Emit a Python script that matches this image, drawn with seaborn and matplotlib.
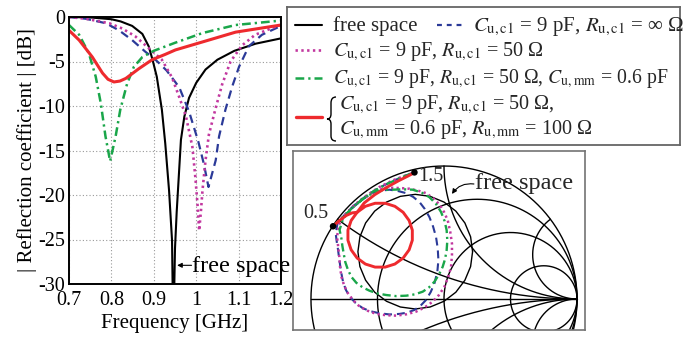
import numpy as np
import pandas as pd
import matplotlib
matplotlib.use("Agg")
import matplotlib.pyplot as plt
from matplotlib.path import Path
from matplotlib.patches import PathPatch
import seaborn as sns

# ---------------- data: |reflection coefficient| [dB] vs frequency [GHz] ----------------
f_free = [0.70, 0.75, 0.80, 0.822, 0.849, 0.873, 0.888, 0.897, 0.907, 0.919, 0.927, 0.936,
          0.943, 0.946, 0.950, 0.954, 0.964, 0.972, 0.983, 1.000, 1.022, 1.050, 1.090, 1.140, 1.200]
db_free = [0.0, -0.05, -0.25, -0.5, -1.0, -1.9, -3.3, -4.8, -6.7, -10.4, -14.2, -19.5,
           -25.1, -36.0, -26.0, -21.9, -13.8, -11.2, -9.1, -7.4, -5.9, -4.8, -3.8, -3.0, -2.4]

f_inf = [0.70, 0.74, 0.787, 0.818, 0.849, 0.880, 0.904, 0.930, 0.960, 0.983, 1.005, 1.018,
         1.029, 1.046, 1.054, 1.069, 1.085, 1.101, 1.124, 1.155, 1.200]
db_inf = [0.0, -0.2, -0.7, -1.5, -2.6, -3.9, -4.8, -6.0, -7.9, -10.6, -14.0, -16.5,
          -19.1, -16.1, -13.4, -10.4, -7.8, -5.6, -3.3, -2.0, -1.0]

f_r50 = [0.70, 0.74, 0.795, 0.826, 0.857, 0.888, 0.919, 0.943, 0.960, 0.976, 0.991, 0.998,
         1.003, 1.007, 1.011, 1.015, 1.022, 1.030, 1.045, 1.061, 1.081, 1.108, 1.139, 1.186, 1.200]
db_r50 = [0.0, -0.2, -0.7, -1.3, -2.2, -3.5, -4.8, -6.8, -9.0, -11.2, -14.6, -18.0,
          -21.0, -24.0, -21.9, -19.4, -16.1, -13.2, -10.4, -7.6, -5.0, -3.2, -2.0, -1.1, -0.9]

f_cmm = [0.70, 0.724, 0.747, 0.763, 0.775, 0.786, 0.797, 0.810, 0.821, 0.837, 0.853, 0.873,
         0.900, 0.950, 1.015, 1.093, 1.200]
db_cmm = [-0.9, -2.0, -4.1, -6.7, -9.7, -13.4, -16.2, -13.4, -10.4, -7.5, -5.6, -4.5,
          -3.8, -2.9, -1.8, -0.9, -0.4]

f_rmm = [0.70, 0.724, 0.755, 0.779, 0.792, 0.806, 0.820, 0.834, 0.865, 0.896, 0.927, 0.951,
         1.015, 1.093, 1.200]
db_rmm = [-1.5, -2.6, -4.5, -6.3, -7.0, -7.3, -7.2, -6.9, -5.8, -4.8, -4.2, -3.7,
          -2.8, -1.7, -0.9]

x_ticks = [0.7, 0.8, 0.9, 1.0, 1.1, 1.2]
x_ticklabels = ["0.7", "0.8", "0.9", "1", "1.1", "1.2"]
y_ticks = [0, -5, -10, -15, -20, -25, -30]
y_ticklabels = ["0", "-5", "-10", "-15", "-20", "-25", "-30"]

# ---------------- data: Smith chart traces (reflection coefficient, re / im) ----------------
sm_free_re = [0.215, 0.200, 0.157, 0.089, 0.000, -0.104, -0.216, -0.328, -0.432, -0.521, -0.589,
              -0.632, -0.647, -0.632, -0.589, -0.521, -0.432, -0.328, -0.216, -0.104, 0.000,
              0.089, 0.157, 0.200, 0.215]
sm_free_im = [0.356, 0.468, 0.572, 0.661, 0.729, 0.772, 0.787, 0.772, 0.729, 0.661, 0.572,
              0.468, 0.356, 0.244, 0.141, 0.051, -0.017, -0.060, -0.075, -0.060, -0.017,
              0.051, 0.141, 0.244, 0.356]

sm_inf_re = [-0.834, -0.800, -0.754, -0.690, -0.610, -0.550, -0.522, -0.465, -0.409, -0.346,
             -0.284, -0.232, -0.184, -0.145, -0.110, -0.082, -0.060, -0.047, -0.042, -0.050,
             -0.072, -0.100, -0.135, -0.176, -0.222, -0.276, -0.334, -0.410, -0.484, -0.549,
             -0.609, -0.664, -0.709, -0.738, -0.759, -0.770, -0.779, -0.788, -0.796, -0.806,
             -0.814, -0.800, -0.745, -0.675, -0.590, -0.500, -0.400, -0.310, -0.222]
sm_inf_im = [0.547, 0.575, 0.615, 0.685, 0.750, 0.790, 0.804, 0.816, 0.822, 0.812,
             0.796, 0.768, 0.729, 0.678, 0.617, 0.545, 0.467, 0.380, 0.292, 0.205,
             0.117, 0.052, -0.007, -0.050, -0.082, -0.102, -0.112, -0.116, -0.107, -0.093,
             -0.070, -0.030, 0.017, 0.070, 0.130, 0.186, 0.242, 0.305, 0.367, 0.430,
             0.492, 0.570, 0.635, 0.705, 0.770, 0.830, 0.880, 0.920, 0.952]

sm_r50_re = [-0.834, -0.800, -0.754, -0.690, -0.610, -0.520, -0.440, -0.384, -0.322, -0.259,
             -0.195, -0.135, -0.082, -0.035, 0.000, 0.028, 0.047, 0.060, 0.060, 0.053,
             0.032, 0.003, -0.038, -0.085, -0.145, -0.210, -0.283, -0.359, -0.435, -0.509,
             -0.575, -0.634, -0.682, -0.721, -0.750, -0.771, -0.781, -0.787, -0.795, -0.804,
             -0.790, -0.740, -0.670, -0.580, -0.490, -0.390, -0.300, -0.222]
sm_r50_im = [0.547, 0.580, 0.620, 0.690, 0.755, 0.810, 0.835, 0.836, 0.834, 0.829,
             0.815, 0.796, 0.758, 0.712, 0.655, 0.592, 0.505, 0.417, 0.330, 0.242,
             0.165, 0.092, 0.030, -0.020, -0.063, -0.095, -0.115, -0.125, -0.122, -0.112,
             -0.088, -0.057, -0.010, 0.042, 0.100, 0.167, 0.240, 0.317, 0.390, 0.467,
             0.560, 0.635, 0.710, 0.780, 0.840, 0.890, 0.925, 0.952]

sm_cmm_re = [-0.834, -0.800, -0.750, -0.680, -0.600, -0.520, -0.450, -0.384, -0.310, -0.234,
             -0.168, -0.110, -0.060, -0.022, 0.005, 0.020, 0.025, 0.020, 0.008, -0.010,
             -0.038, -0.072, -0.112, -0.160, -0.220, -0.284, -0.360, -0.434, -0.500, -0.559,
             -0.612, -0.659, -0.695, -0.721, -0.742, -0.754, -0.764, -0.771, -0.785, -0.760,
             -0.700, -0.620, -0.530, -0.440, -0.350, -0.280, -0.222]
sm_cmm_im = [0.547, 0.580, 0.625, 0.695, 0.760, 0.805, 0.820, 0.822, 0.825, 0.822,
             0.800, 0.766, 0.715, 0.654, 0.585, 0.517, 0.440, 0.367, 0.300, 0.242,
             0.183, 0.130, 0.088, 0.055, 0.035, 0.025, 0.022, 0.030, 0.042, 0.062,
             0.088, 0.122, 0.165, 0.217, 0.278, 0.342, 0.400, 0.454, 0.520, 0.600,
             0.675, 0.745, 0.810, 0.860, 0.900, 0.930, 0.952]

sm_rmm_re = [-0.834, -0.790, -0.735, -0.690, -0.653, -0.591, -0.518, -0.442, -0.369, -0.307,
             -0.262, -0.238, -0.238, -0.262, -0.307, -0.369, -0.442, -0.518, -0.591, -0.653,
             -0.698, -0.722, -0.722, -0.698, -0.653, -0.600, -0.520, -0.430, -0.340, -0.270,
             -0.222]
sm_rmm_im = [0.547, 0.587, 0.628, 0.648, 0.652, 0.697, 0.720, 0.720, 0.697, 0.652,
             0.590, 0.518, 0.442, 0.370, 0.308, 0.263, 0.240, 0.240, 0.263, 0.308,
             0.370, 0.442, 0.518, 0.590, 0.652, 0.722, 0.785, 0.840, 0.890, 0.925,
             0.950]

dots_re = [-0.834, -0.222]
dots_im = [0.547, 0.952]
dot_labels = ["0.5", "1.5"]

smith_r = [0.0, 1.0 / 3.0, 1.0, 3.0]
smith_x = [1.0 / 3.0, 1.0, 3.0]

# ---------------- styles ----------------
C_FREE, C_INF, C_R50, C_CMM, C_RMM = "black", "#2b3a98", "#c2379f", "#1aa64a", "#ee2a2e"
LS_INF = (0, (3.8, 2.4))
LS_R50 = (0, (0.9, 1.3))
LS_CMM = (0, (3.5, 1.6, 0.9, 1.6))

sns.set_theme(style="white")
plt.rcParams["font.family"] = ["Liberation Serif", "DejaVu Serif"]
plt.rcParams["mathtext.fontset"] = "stix"
plt.rcParams["axes.unicode_minus"] = False

W, H = 692, 338
fig = plt.figure(figsize=(W / 100, H / 100), dpi=100)


def fig_rect(left, top, right, bottom):
    return [left / W, 1 - bottom / H, (right - left) / W, (bottom - top) / H]


# ---------------- left: magnitude plot ----------------
ax = fig.add_axes(fig_rect(69, 17, 281, 284))
series = [
    (f_free, db_free, C_FREE, "-", 1.5),
    (f_inf, db_inf, C_INF, LS_INF, 1.6),
    (f_r50, db_r50, C_R50, LS_R50, 1.9),
    (f_cmm, db_cmm, C_CMM, LS_CMM, 1.8),
    (f_rmm, db_rmm, C_RMM, "-", 2.2),
]
for fx, dy, col, ls, lw in series:
    df = pd.DataFrame({"f": fx, "db": dy})
    sns.lineplot(data=df, x="f", y="db", ax=ax, color=col, linestyle=ls, lw=lw,
                 sort=False, estimator=None)

ax.set_xlim(0.7, 1.2)
ax.set_ylim(-30, 0)
ax.set_xticks(x_ticks)
ax.set_xticklabels(x_ticklabels)
ax.set_yticks(y_ticks)
ax.set_yticklabels(y_ticklabels)
ax.grid(True, linestyle=(0, (1, 2)), color="0.6", lw=0.8)
ax.tick_params(direction="in", length=4, width=1, labelsize=14.5, colors="black")
ax.tick_params(axis="x", pad=5)
ax.tick_params(axis="y", pad=3)
for sp in ax.spines.values():
    sp.set_color("black")
    sp.set_linewidth(1.4)
ax.set_xlabel("Frequency [GHz]", fontsize=15, labelpad=3, color="black")
ax.set_ylabel("| Reflection coefficient | [dB]", fontsize=15, labelpad=1, color="black")

ax.annotate("", xy=(0.955, -27.9), xytext=(0.989, -27.9),
            arrowprops=dict(arrowstyle="-|>", lw=0.8, color="black", mutation_scale=7,
                            shrinkA=0, shrinkB=0), annotation_clip=False)
ax.text(0.990, -28.6, "free space", fontsize=17.5, ha="left", va="baseline",
        clip_on=False, color="black")

# ---------------- legend box ----------------
lax = fig.add_axes(fig_rect(287, 7, 680, 145))
lax.set_xlim(287, 680)
lax.set_ylim(145, 7)
lax.set_xticks([])
lax.set_yticks([])
lax.set_facecolor("white")
for sp in lax.spines.values():
    sp.set_color("0.4")
    sp.set_linewidth(1.3)

lfs = 14.6
lax.plot([295, 322], [25, 25], color=C_FREE, lw=1.5)
lax.text(333, 31, "free space", fontsize=15, va="baseline")
lax.plot([437, 463], [25, 25], color=C_INF, lw=1.6, linestyle=(0, (2.2, 2.2)))
lax.text(473, 31, r"$C_{\mathrm{u,c1}}$ = 9 pF, $R_{\mathrm{u,c1}}$ = ∞ Ω", fontsize=15, va="baseline")
lax.plot([295, 322], [50, 50], color=C_R50, lw=1.9, linestyle=LS_R50)
lax.text(333, 56, r"$C_{\mathrm{u,c1}}$ = 9 pF, $R_{\mathrm{u,c1}}$ = 50 Ω", fontsize=lfs, va="baseline")
lax.plot([295, 322], [78, 78], color=C_CMM, lw=1.8, linestyle=LS_CMM)
lax.text(333, 83, r"$C_{\mathrm{u,c1}}$ = 9 pF, $R_{\mathrm{u,c1}}$ = 50 Ω, $C_{\mathrm{u,mm}}$ = 0.6 pF",
         fontsize=14.2, va="baseline")
lax.plot([296, 322], [117, 117], color=C_RMM, lw=2.4)
brace = Path([(336, 97), (331, 97), (331, 103), (331, 114), (331, 119), (327, 119),
              (331, 119), (331, 124), (331, 136), (331, 141), (336, 141)],
             [Path.MOVETO, Path.CURVE3, Path.CURVE3, Path.LINETO, Path.CURVE3, Path.CURVE3,
              Path.CURVE3, Path.CURVE3, Path.LINETO, Path.CURVE3, Path.CURVE3])
lax.add_patch(PathPatch(brace, fill=False, lw=1.0, color="black"))
lax.text(339, 109, r"$C_{\mathrm{u,c1}}$ = 9 pF, $R_{\mathrm{u,c1}}$ = 50 Ω,", fontsize=lfs, va="baseline")
lax.text(339, 134, r"$C_{\mathrm{u,mm}}$ = 0.6 pF, $R_{\mathrm{u,mm}}$ = 100 Ω", fontsize=lfs, va="baseline")

# ---------------- Smith chart ----------------
sax = fig.add_axes(fig_rect(293, 151, 585, 330))
sax.set_xlim(-1.135, 1.06)
sax.set_ylim(-0.233, 1.113)
sax.set_xticks([])
sax.set_yticks([])
sax.set_facecolor("white")
for sp in sax.spines.values():
    sp.set_color("0.45")
    sp.set_linewidth(1.2)

t = np.linspace(0, 2 * np.pi, 721)
for r in smith_r:
    c, rad = r / (1 + r), 1 / (1 + r)
    sax.plot(c + rad * np.cos(t), rad * np.sin(t), color="black", lw=1.0, zorder=1)
rr = np.concatenate([[0.0], np.logspace(-3, 4, 1500)])
for xv in smith_x:
    for sgn in (1, -1):
        g = (rr + 1j * sgn * xv - 1) / (rr + 1j * sgn * xv + 1)
        sax.plot(g.real, g.imag, color="black", lw=1.0, zorder=1)
sax.plot([-1, 1], [0, 0], color="black", lw=1.0, zorder=1)

smith_series = [
    (sm_free_re, sm_free_im, C_FREE, "-", 1.0),
    (sm_inf_re, sm_inf_im, C_INF, LS_INF, 1.5),
    (sm_r50_re, sm_r50_im, C_R50, LS_R50, 1.8),
    (sm_cmm_re, sm_cmm_im, C_CMM, LS_CMM, 1.7),
    (sm_rmm_re, sm_rmm_im, C_RMM, "-", 2.1),
]
for re_, im_, col, ls, lw in smith_series:
    df = pd.DataFrame({"re": re_, "im": im_})
    sns.lineplot(data=df, x="re", y="im", ax=sax, color=col, linestyle=ls, lw=lw,
                 sort=False, estimator=None, zorder=3)
sns.scatterplot(x=dots_re, y=dots_im, ax=sax, color="black", s=22, edgecolor="none", zorder=5)
sax.set_xlabel("")
sax.set_ylabel("")

sax.text(-0.965, 0.640, dot_labels[0], fontsize=14.5, ha="center", va="center")
sax.text(-0.096, 0.918, dot_labels[1], fontsize=14.5, ha="center", va="center")
sax.text(0.232, 0.829, "free space", fontsize=17.5, ha="left", va="baseline")
sax.annotate("", xy=(0.06, 0.79), xytext=(0.225, 0.865),
             arrowprops=dict(arrowstyle="-|>", lw=0.8, color="black", mutation_scale=7,
                             shrinkA=0, shrinkB=0, connectionstyle="arc3,rad=0.3"))

fig.savefig("out.png", dpi=100)
